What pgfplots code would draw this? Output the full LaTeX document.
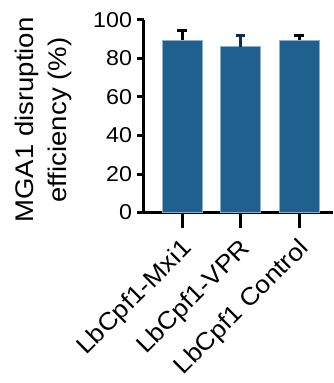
\documentclass[border=0pt]{standalone}
\usepackage{fontspec}
\setmainfont{Liberation Sans}[FakeStretch=1.08]
\usepackage{pgfplots}
\pgfplotsset{compat=1.18}
\definecolor{barblue}{RGB}{31,96,143}
\definecolor{baredge}{RGB}{140,175,205}
\definecolor{errnavy}{RGB}{14,48,66}

\begin{document}
\begin{tikzpicture}[x=1pt,y=1pt]
\useasboundingbox (0,0) rectangle (333,383);
\begin{axis}[
  at={(144pt,170.5pt)}, anchor=south west,
  scale only axis, width=189pt, height=192.5pt,
  xmin=-0.65, xmax=2.58, ymin=0, ymax=100,
  axis x line*=bottom, axis y line*=left,
  axis line style={line width=3pt, black},
  tick align=outside,
  major tick length=6.5pt,
  tick style={line width=3pt, black},
  ytick={0,20,...,100},
  xtick=\empty,
  extra x ticks={0,1,2},
  extra x tick labels={LbCpf1-Mxi1, LbCpf1-VPR, LbCpf1 Control},
  extra x tick style={major tick length=15.5pt,
    tick label style={xshift=-2pt, yshift=-4pt, rotate=45, anchor=north east,
      font=\fontsize{24.5}{27}\selectfont}},
  /pgf/number format/assume math mode=true,
  yticklabel style={xshift=-2pt, font=\fontsize{21.5}{23}\selectfont},
  ylabel={MGA1 disruption\\efficiency (\%)},
  ylabel style={align=center, font=\fontsize{25.5}{33}\selectfont,
    at={(axis description cs:-0.532,0.48)}, anchor=center},
  clip=false,
]
% groups with black error bars
\addplot[ybar, bar width=40pt, bar shift=0pt, fill=barblue, draw=baredge,
  line width=0.6pt,
  error bars/.cd, y dir=plus, y explicit,
  error bar style={line width=3pt, black},
  error mark options={rotate=90, mark size=4.75pt, line width=3pt, black}]
  coordinates {(0,89.6) +- (0,4.9) (2,89.6) +- (0,2.4)};
% middle group
\addplot[ybar, bar width=40pt, bar shift=0pt, fill=barblue, draw=baredge,
  line width=0.6pt,
  error bars/.cd, y dir=plus, y explicit,
  error bar style={line width=3pt, errnavy},
  error mark options={rotate=90, mark size=4.75pt, line width=3pt, errnavy}]
  coordinates {(1,86.1) +- (0,5.9)};
\end{axis}
\end{tikzpicture}
\end{document}
